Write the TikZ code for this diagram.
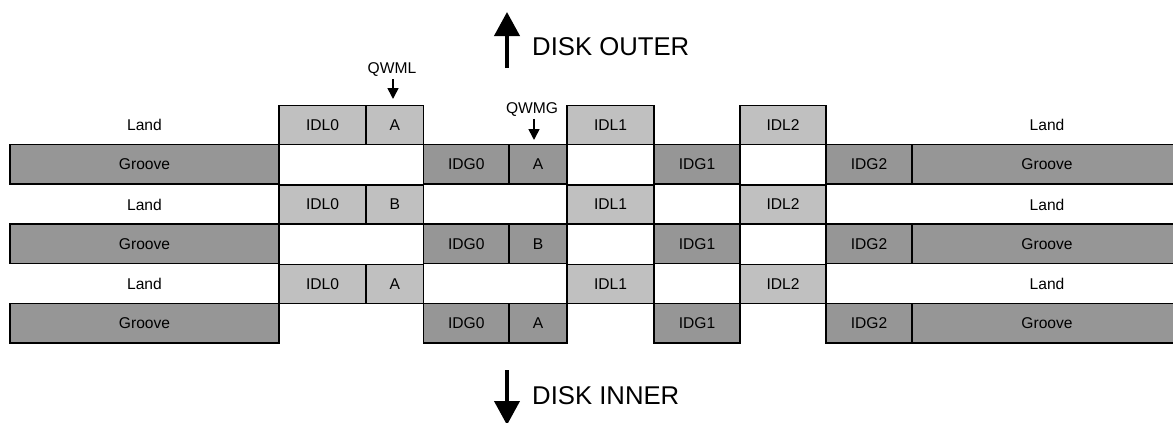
\documentclass[tikz,border=0pt]{standalone}
\usepackage{fontspec}
\setmainfont{Liberation Sans}
\usetikzlibrary{arrows.meta}
\definecolor{lgray}{HTML}{C0C0C0}
\definecolor{dgray}{HTML}{969696}
\newcommand\mybox[7]{%
 \pgfmathsetmacro\mbw{#4-#3}\pgfmathsetmacro\mbh{#6-#5}%
 \pgfmathsetmacro\mbx{(#3+#4)/2}\pgfmathsetmacro\mby{(#5+#6)/2}%
 \node[#1, minimum width=\mbw pt, minimum height=\mbh pt] (#2) at (\mbx,\mby) {#7};}
\begin{document}
\begin{tikzpicture}[x=1pt,y=-1pt,
  base/.style={draw=black, line width=1.3pt, inner sep=0pt, outer sep=0pt,
    font=\fontsize{15.6}{18}\selectfont, rectangle},
  lbox/.style={base, fill=lgray},
  gbox/.style={base, fill=dgray},
  lbl/.style={inner sep=0pt, font=\fontsize{15.6}{18}\selectfont},
  big/.style={inner sep=0pt, anchor=west, font=\fontsize{25.7}{30}\selectfont},
  bigarrow/.style={line width=4pt, -{Triangle[width=25pt,length=24pt]}},
  smallarrow/.style={line width=1.6pt, -{Triangle[width=11pt,length=11pt]}}]
\useasboundingbox (0,0) rectangle (1173,423);
\begin{scope}
\clip (0,0) rectangle (1173,423);
\foreach \k/\t in {0/A,1/B,2/A}{
  \pgfmathsetmacro\lt{105.5+79.5*\k}
  \pgfmathsetmacro\lb{144.5+79.5*\k}
  \pgfmathsetmacro\gb{184+79.5*\k}
  \pgfmathsetmacro\lm{125+79.5*\k}
  % Land row
  \node[lbl] (landl\k) at (144.5,\lm) {Land};
  \node[lbl] (landr\k) at (1047,\lm) {Land};
  \mybox{lbox}{idlz\k}{279}{366}{\lt}{\lb}{IDL0}
  \mybox{lbox}{idla\k}{366}{423.5}{\lt}{\lb}{\t}
  \mybox{lbox}{idlb\k}{567}{654}{\lt}{\lb}{IDL1}
  \mybox{lbox}{idlc\k}{740}{826}{\lt}{\lb}{IDL2}
  % Groove row
  \mybox{gbox}{groovel\k}{10}{279}{\lb}{\gb}{Groove}
  \mybox{gbox}{idgz\k}{423.5}{509}{\lb}{\gb}{IDG0}
  \mybox{gbox}{idga\k}{509}{567}{\lb}{\gb}{\t}
  \mybox{gbox}{idgb\k}{654}{740}{\lb}{\gb}{IDG1}
  \mybox{gbox}{idgc\k}{826}{912}{\lb}{\gb}{IDG2}
  \mybox{gbox}{groover\k}{912}{1182}{\lb}{\gb}{Groove}
}
% Top labels
\node[lbl] (qwml) at (392,70) {QWML};
\coordinate (qwmlend) at (393,99);
\draw[smallarrow] (qwml.south -| qwmlend) ++(0,2) -- (qwmlend);
\node[lbl] (qwmg) at (532,110) {QWMG};
\coordinate (qwmgend) at (534,140);
\draw[smallarrow] (qwmg.south -| qwmgend) ++(0,2) -- (qwmgend);
% Disk outer
\node[big] (outer) at (532,47) {DISK OUTER};
\coordinate (outs) at (507,68);
\coordinate (outt) at (507,12);
\draw[bigarrow] (outs) -- (outt);
% Disk inner
\node[big] (inner) at (532,396) {DISK INNER};
\coordinate (ins) at (507,370);
\coordinate (int) at (507,425);
\draw[bigarrow] (ins) -- (int);
\end{scope}
\end{tikzpicture}
\end{document}
